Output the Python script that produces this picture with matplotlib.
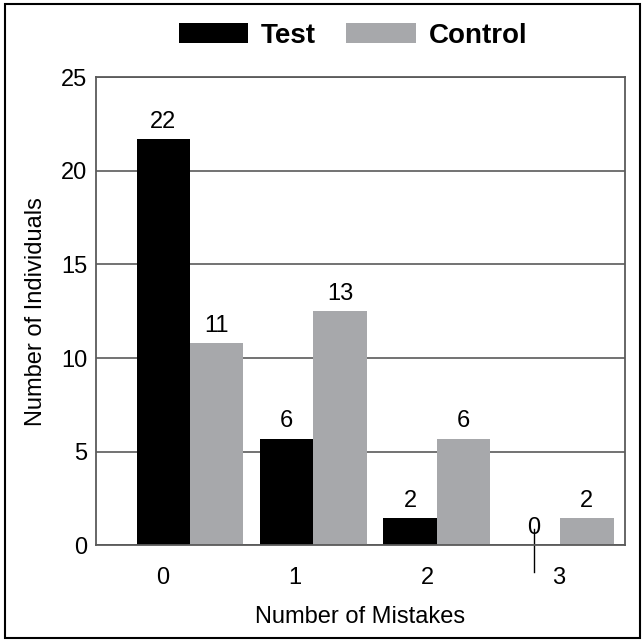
import matplotlib.pyplot as plt
import numpy as np
from matplotlib.patches import Rectangle

plt.rcParams['font.family'] = ['Liberation Sans', 'DejaVu Sans']

# data
mistakes = ['0', '1', '2', '3']
test_heights = [21.7, 5.7, 1.45, 0]
control_heights = [10.8, 12.5, 5.7, 1.45]
test_labels = ['22', '6', '2', '0']
control_labels = ['11', '13', '6', '2']

black = '#000000'
gray = '#a7a8ab'
grid_col = '#5a5a5a'
fs = 17

fig = plt.figure(figsize=(6.43, 6.43), dpi=100)
ax = fig.add_axes([0.149, 0.152, 0.823, 0.728])

x = np.arange(len(mistakes))
w = 0.432
ax.set_axisbelow(True)
b1 = ax.bar(x - w / 2, test_heights, w, color=black, label='Test')
b2 = ax.bar(x + w / 2, control_heights, w, color=gray, label='Control')

for bars, labs in ((b1, test_labels), (b2, control_labels)):
    for b, t in zip(bars, labs):
        ax.annotate(t, (b.get_x() + b.get_width() / 2, b.get_height()),
                    xytext=(0, 4.5), textcoords='offset points',
                    ha='center', va='bottom', fontsize=fs)

# stray line through the zero label (as in the original)
zx = x[3] - w / 2
ax.plot([zx, zx], [0.86, -1.45], color=black, lw=1, clip_on=False)

ax.set_ylim(0, 25)
ax.set_xlim(-0.762, 3.525)
ax.set_yticks([0, 5, 10, 15, 20, 25])
# tick labels in the original are not centred on the groups
ax.set_xticks(-0.219 + x * 1.07)
ax.set_xticklabels(mistakes)
ax.tick_params(axis='both', length=0, labelsize=fs)
ax.tick_params(axis='x', pad=16)
ax.tick_params(axis='y', pad=6)
ax.yaxis.grid(True, color=grid_col, lw=1.2)
for s in ax.spines.values():
    s.set_color(grid_col)
    s.set_linewidth(1.3)

ax.set_xlabel('Number of Mistakes', fontsize=fs, labelpad=12)
ax.set_ylabel('Number of Individuals', fontsize=fs, labelpad=10)

fig.legend(handles=[b1, b2], loc='center', bbox_to_anchor=(0.549, 0.944),
           ncol=2, frameon=False, prop={'weight': 'bold', 'size': 20},
           handlelength=2.5, handleheight=0.75, handletextpad=0.45, columnspacing=1.1)

fig.patches.append(Rectangle((0.007, 0.008), 0.988, 0.986, transform=fig.transFigure,
                             fill=False, edgecolor=black, lw=1.5))

fig.savefig('out.png', dpi=100)
